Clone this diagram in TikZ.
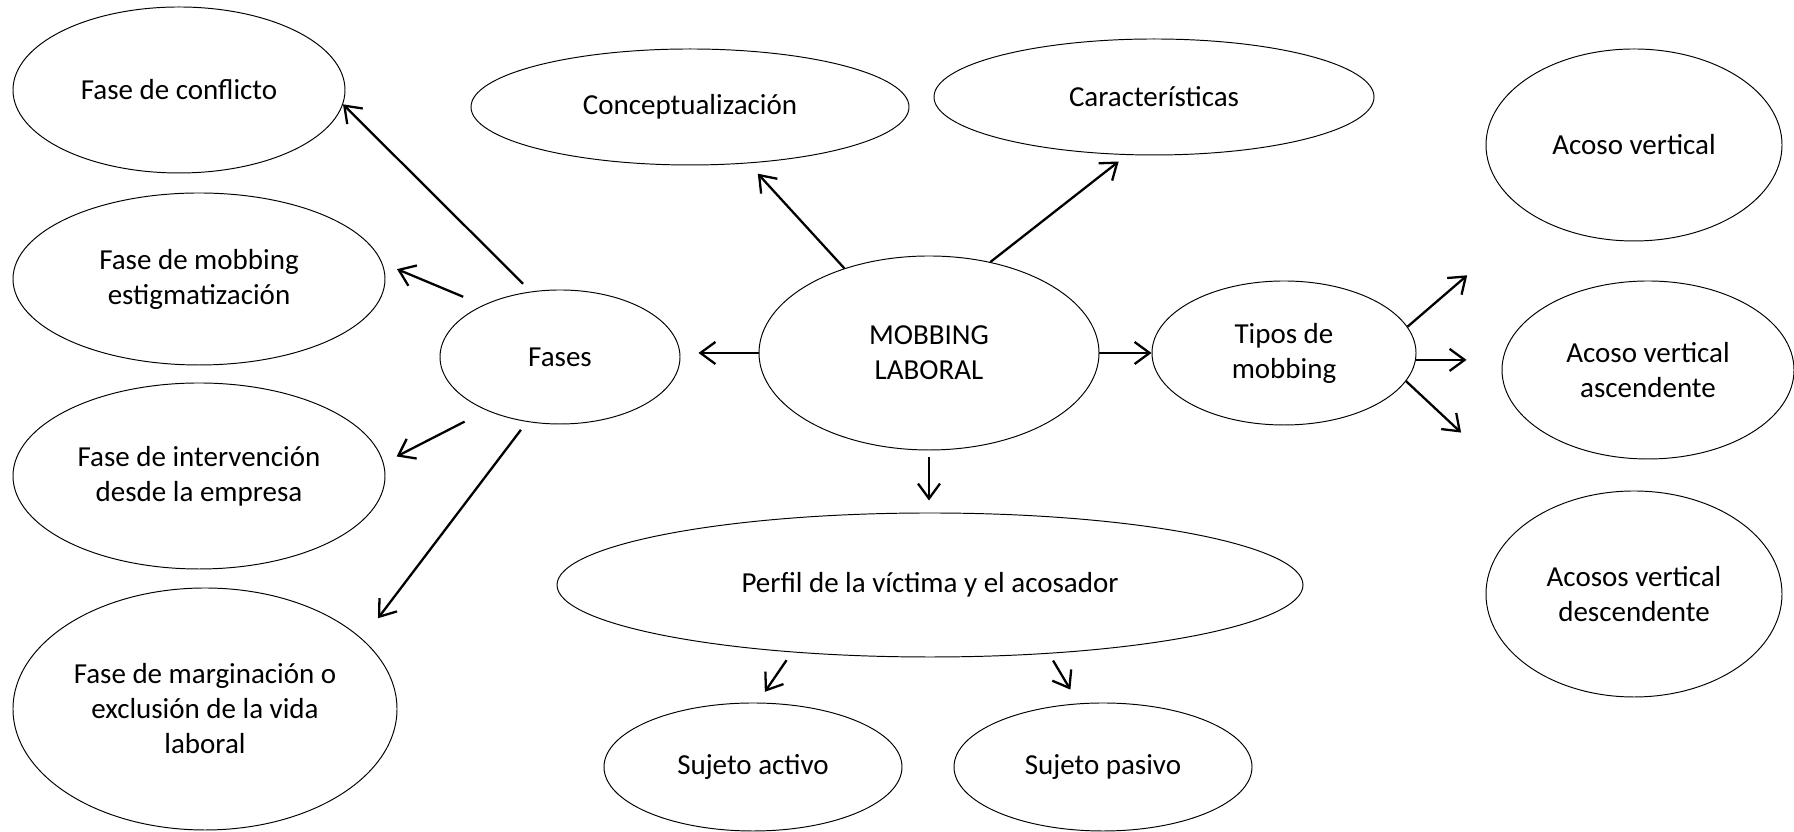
\documentclass[tikz,border=0pt]{standalone}
\usepackage{fontspec}
\setmainfont{Carlito}
\usepackage{tikz}
\usetikzlibrary{shapes.geometric,arrows.meta}

\tikzset{
	bubble/.style={ellipse, draw, line width=0.55pt, inner sep=0pt, align=center, font=\fontsize{16.5}{19.9}\selectfont},
	arr/.style={-{Straight Barb[length=3mm,width=4.4mm]}, line width=1.3pt}
}

\begin{document}
\begin{tikzpicture}
			\useasboundingbox (0,0) rectangle (35.88,16.64);
			\node[bubble, minimum width=6.64cm, minimum height=3.32cm] (conflicto) at (3.58,14.84) {Fase de conflicto};
			\node[bubble, minimum width=7.44cm, minimum height=3.44cm] (estigma) at (3.98,11.06) {Fase de mobbing\\estigmatización};
			\node[bubble, minimum width=7.44cm, minimum height=3.72cm] (intervencion) at (3.98,7.12) {Fase de intervención\\desde la empresa};
			\node[bubble, minimum width=7.68cm, minimum height=4.84cm] (marginacion) at (4.10,2.46) {Fase de marginación o\\exclusión de la vida\\laboral};
			\node[bubble, minimum width=4.8cm, minimum height=2.68cm] (fases) at (11.2,9.5) {Fases};
			\node[bubble, minimum width=8.76cm, minimum height=2.32cm] (concepto) at (13.8,14.5) {Conceptualización};
			\node[bubble, minimum width=8.8cm, minimum height=2.32cm] (caract) at (23.08,14.7) {Características};
			\node[bubble, minimum width=6.8cm, minimum height=3.88cm] (mobbing) at (18.58,9.58) {MOBBING\\LABORAL};
			\node[bubble, minimum width=5.28cm, minimum height=2.88cm] (tipos) at (25.68,9.58) {Tipos de\\mobbing};
			\node[bubble, minimum width=5.92cm, minimum height=3.84cm] (vertical) at (32.68,13.74) {Acoso vertical};
			\node[bubble, minimum width=5.84cm, minimum height=3.56cm] (ascend) at (32.96,9.24) {Acoso vertical\\ascendente};
			\node[bubble, minimum width=5.92cm, minimum height=4.12cm] (descend) at (32.68,4.76) {Acosos vertical\\descendente};
			\node[bubble, minimum width=14.92cm, minimum height=2.88cm] (perfil) at (18.6,4.94) {Perfil de la víctima y el acosador};
			\node[bubble, minimum width=5.96cm, minimum height=2.56cm] (activo) at (15.06,1.3) {Sujeto activo};
			\node[bubble, minimum width=5.96cm, minimum height=2.56cm] (pasivo) at (22.06,1.3) {Sujeto pasivo};
			\draw[arr, shorten <=0.22cm] (fases.114) -- (conflicto.-5);
			\draw[arr, shorten <=0.43cm, shorten >=0.32cm] (fases.146) -- (estigma.5);
			\draw[arr, shorten <=0.49cm, shorten >=0.29cm] (fases.-144) -- (intervencion.4);
			\draw[arr, shorten <=0.2cm, shorten >=0.52cm] (fases.-117) -- (marginacion.24);
			\draw[arr, shorten >=0.36cm] (mobbing.west) -- (mobbing.west -| fases.east);
			\draw[arr, shorten >=0.28cm] (mobbing.135) -- (concepto.-44);
			\draw[arr, shorten >=0.21cm] (mobbing.56) -- (caract.-115);
			\draw[arr] (mobbing.east) -- (tipos.west);
			\draw[arr, shorten <=0.14cm, shorten >=0.24cm] (mobbing.south) -- (mobbing.south |- perfil.north);
			\draw[arr, shorten >=1.79cm] (tipos.12) -- (vertical.-144);
			\draw[arr, shorten >=0.7cm] (tipos.-3) -- (tipos.-3 -| ascend.west);
			\draw[arr, shorten >=2.3cm] (tipos.-13) -- (descend.137);
			\draw[arr, shorten <=0.19cm, shorten >=0.26cm] (perfil.-154) -- (activo.86);
			\draw[arr, shorten <=0.16cm, shorten >=0.32cm] (perfil.-30) -- (pasivo.111);
		\end{tikzpicture}
\end{document}
